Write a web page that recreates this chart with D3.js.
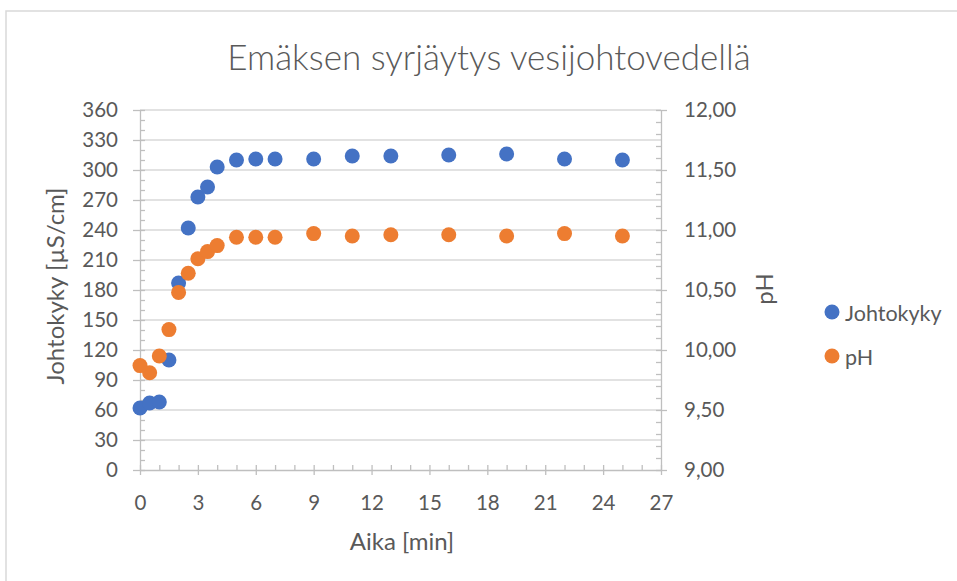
<!DOCTYPE html>
<html>
<head>
<meta charset="utf-8">
<script src="https://cdn.jsdelivr.net/npm/d3@7"></script>
<style>
  html, body { margin: 0; padding: 0; background: #ffffff; }
  svg { display: block; }
  text { font-family: Lato, "Open Sans", sans-serif; fill: #595959; }
</style>
</head>
<body>
<svg id="chart" width="957" height="581"></svg>
<script>
// ---- data ----
const title = "Emäksen syrjäytys vesijohtovedellä";
const xTitle = "Aika [min]";
const yLeftTitle = "Johtokyky [µS/cm]";
const yRightTitle = "pH";
const seriesNames = ["Johtokyky", "pH"];
const time = [0, 0.5, 1, 1.5, 2, 2.5, 3, 3.5, 4, 5, 6, 7, 9, 11, 13, 16, 19, 22, 25];
const conductivity = [62, 67, 68, 110, 187, 242, 273, 283, 303, 310, 311, 311, 311, 314, 314, 315, 316, 311, 310];
const ph = [9.87, 9.81, 9.95, 10.17, 10.48, 10.64, 10.76, 10.82, 10.87, 10.94, 10.94, 10.94, 10.97, 10.95, 10.96, 10.96, 10.95, 10.97, 10.95];
const xTicks = [0, 3, 6, 9, 12, 15, 18, 21, 24, 27];
const yLeftTicks = [0, 30, 60, 90, 120, 150, 180, 210, 240, 270, 300, 330, 360];
const yRightTicks = [9, 9.5, 10, 10.5, 11, 11.5, 12];

// ---- styles ----
const colors = ["#4472C4", "#ED7D31"];
const axisColor = "#bfbfbf";
const gridColor = "#d9d9d9";
const tickFont = 20.5;

const svg = d3.select("#chart");
svg.append("rect").attr("x", 0).attr("y", 0).attr("width", 957).attr("height", 581).attr("fill", "#fff");
svg.append("rect").attr("x", 6).attr("y", 11).attr("width", 1000).attr("height", 700)
  .attr("fill", "none").attr("stroke", gridColor).attr("stroke-width", 1.5);

const x = d3.scaleLinear().domain([0, 27]).range([140, 661]);
const yL = d3.scaleLinear().domain([0, 360]).range([470, 110]);
const yR = d3.scaleLinear().domain([9, 12]).range([470, 110]);

// gridlines
svg.append("g").selectAll("line").data(yLeftTicks.slice(1)).join("line")
  .attr("x1", x(0)).attr("x2", x(27))
  .attr("y1", d => yL(d)).attr("y2", d => yL(d))
  .attr("stroke", gridColor).attr("stroke-width", 1.3);

function styleAxis(g) {
  g.select(".domain").attr("stroke", axisColor).attr("stroke-width", 1.3);
  g.selectAll(".tick line").attr("stroke", axisColor).attr("stroke-width", 1.3);
  g.selectAll("text").attr("font-size", tickFont).attr("fill", "#595959")
    .style("font-family", "Lato, 'Open Sans', sans-serif");
}

// minor ticks
const minorX = d3.range(0, 28, 1).filter(v => v % 3 !== 0);
svg.append("g").attr("transform", "translate(0,470)")
  .call(d3.axisTop(x).tickValues(minorX).tickSize(5).tickFormat(""))
  .call(g => { g.select(".domain").remove(); g.selectAll("line").attr("stroke", axisColor).attr("stroke-width", 1.3); });
const minorL = d3.range(0, 361, 10).filter(v => v % 30 !== 0);
svg.append("g").attr("transform", "translate(140,0)")
  .call(d3.axisRight(yL).tickValues(minorL).tickSize(5).tickFormat(""))
  .call(g => { g.select(".domain").remove(); g.selectAll("line").attr("stroke", axisColor).attr("stroke-width", 1.3); });
const minorR = d3.range(90, 121, 1).map(v => v / 10).filter(v => Math.round(v * 10) % 5 !== 0);
svg.append("g").attr("transform", "translate(661,0)")
  .call(d3.axisLeft(yR).tickValues(minorR).tickSize(5).tickFormat(""))
  .call(g => { g.select(".domain").remove(); g.selectAll("line").attr("stroke", axisColor).attr("stroke-width", 1.3); });

// major axes
svg.append("g").attr("transform", "translate(140,0)")
  .call(d3.axisLeft(yL).tickValues(yLeftTicks).tickSize(7).tickPadding(15).tickSizeOuter(0))
  .call(styleAxis)
  .call(g => g.selectAll(".tick line").attr("x1", 5));

const fmtR = v => d3.format(".2f")(v).replace(".", ",");
svg.append("g").attr("transform", "translate(661,0)")
  .call(d3.axisRight(yR).tickValues(yRightTicks).tickFormat(fmtR).tickSize(6).tickPadding(17).tickSizeOuter(0))
  .call(styleAxis)
  .call(g => g.selectAll(".tick line").attr("x1", -5));

svg.append("g").attr("transform", "translate(0,470)")
  .call(d3.axisBottom(x).tickValues(xTicks).tickSize(5).tickPadding(20).tickSizeOuter(0))
  .call(styleAxis)
  .call(g => g.selectAll(".tick line").attr("y1", -5));

// points
const pts = time.map((t, i) => ({ t, c: conductivity[i], p: ph[i] }));
svg.append("g").selectAll("circle").data(pts).join("circle")
  .attr("cx", d => x(d.t)).attr("cy", d => yL(d.c)).attr("r", 7.5).attr("fill", colors[0]);
svg.append("g").selectAll("circle").data(pts).join("circle")
  .attr("cx", d => x(d.t)).attr("cy", d => yR(d.p)).attr("r", 7.5).attr("fill", colors[1]);

// titles
svg.append("text").attr("x", 489).attr("y", 70).attr("text-anchor", "middle")
  .attr("font-size", 35).attr("font-weight", 300).text(title);
svg.append("text").attr("x", 402).attr("y", 550).attr("text-anchor", "middle")
  .attr("font-size", 24).text(xTitle);
svg.append("text").attr("transform", "translate(64,286) rotate(-90)").attr("text-anchor", "middle")
  .attr("font-size", 24).text(yLeftTitle);
svg.append("text").attr("transform", "translate(773,289) rotate(-90)").attr("text-anchor", "middle")
  .attr("font-size", 24).text(yRightTitle);

// legend
const leg = svg.append("g").selectAll("g").data(seriesNames).join("g")
  .attr("transform", (d, i) => `translate(832,${312 + i * 44})`);
leg.append("circle").attr("r", 7.5).attr("fill", (d, i) => colors[i]);
leg.append("text").attr("x", 13).attr("y", 9).attr("font-size", 21.5).text(d => d);
</script>
</body>
</html>
